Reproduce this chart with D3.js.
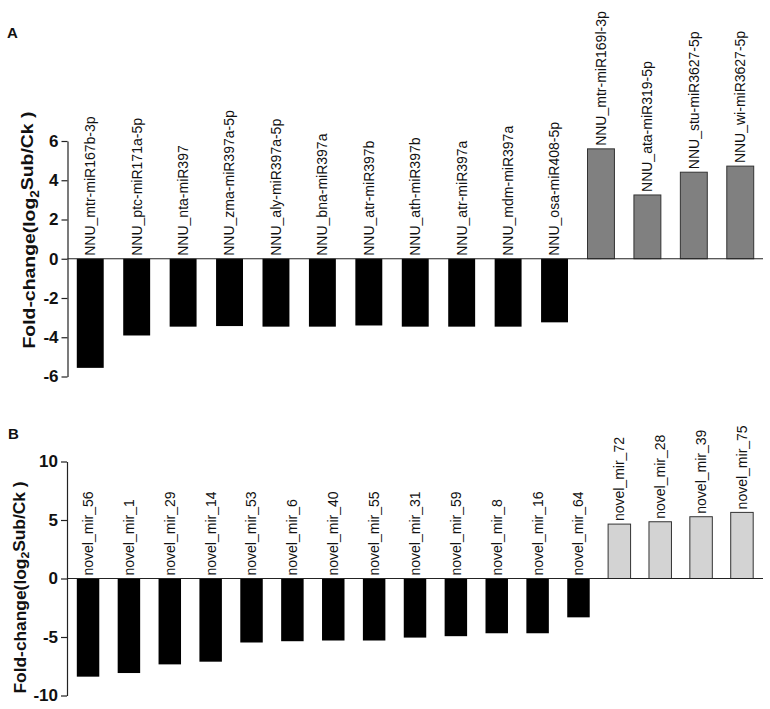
<!DOCTYPE html>
<html>
<head>
<meta charset="utf-8">
<script src="https://cdn.jsdelivr.net/npm/d3@7/dist/d3.min.js"></script>
<style>
  body { margin: 0; background: #fff; }
  svg { display: block; font-family: "Liberation Sans", Arial, Helvetica, sans-serif; }
</style>
</head>
<body>
<svg id="chart" width="770" height="709"></svg>
<script>
// ---- Data ----
const categoriesA = ["NNU_mtr-miR167b-3p","NNU_ptc-miR171a-5p","NNU_nta-miR397","NNU_zma-miR397a-5p",
  "NNU_aly-miR397a-5p","NNU_bna-miR397a","NNU_atr-miR397b","NNU_ath-miR397b","NNU_atr-miR397a",
  "NNU_mdm-miR397a","NNU_osa-miR408-5p","NNU_mtr-miR169l-3p","NNU_ata-miR319-5p","NNU_stu-miR3627-5p",
  "NNU_wi-miR3627-5p"];
const valuesA = [-5.56,-3.91,-3.46,-3.43,-3.46,-3.46,-3.40,-3.46,-3.46,-3.46,-3.24,5.60,3.25,4.41,4.72];
const ticksA = [-6,-4,-2,0,2,4,6];

const categoriesB = ["novel_mir_56","novel_mir_1","novel_mir_29","novel_mir_14","novel_mir_53","novel_mir_6",
  "novel_mir_40","novel_mir_55","novel_mir_31","novel_mir_59","novel_mir_8","novel_mir_16","novel_mir_64",
  "novel_mir_72","novel_mir_28","novel_mir_39","novel_mir_75"];
const valuesB = [-8.39,-8.08,-7.34,-7.11,-5.47,-5.36,-5.30,-5.30,-5.05,-4.93,-4.68,-4.68,-3.32,4.65,4.85,5.28,5.65];
const ticksB = [-10,-5,0,5,10];

const svg = d3.select("#chart");
svg.append("rect").attr("width",770).attr("height",709).attr("fill","#fff");

function panel(opts) {
  const g = svg.append("g");
  const x = d3.scaleBand().domain(opts.cats).range(opts.xr)
    .paddingInner(opts.pi).paddingOuter(opts.po);
  const y = d3.scaleLinear().domain(opts.dom).range(opts.yr);

  // bars
  g.selectAll("rect.bar").data(opts.vals).enter().append("rect")
    .attr("x", (d,i) => x(opts.cats[i]))
    .attr("width", x.bandwidth())
    .attr("y", d => y(Math.max(0,d)))
    .attr("height", d => Math.abs(y(d) - y(0)))
    .attr("fill", d => d < 0 ? "#000" : opts.posFill)
    .attr("stroke", d => d < 0 ? "none" : "#333")
    .attr("stroke-width", 1);

  // zero line
  g.append("line").attr("x1", opts.xr[0]).attr("x2", opts.xr[1])
    .attr("y1", y(0)).attr("y2", y(0)).attr("stroke","#222").attr("stroke-width",1.2);

  // y axis
  const ax = g.append("g").attr("transform", `translate(${opts.xr[0]},0)`)
    .call(d3.axisLeft(y).tickValues(opts.ticks).tickSize(6).tickSizeOuter(0).tickPadding(3)
      .tickFormat(d => String(d)));
  ax.select(".domain").attr("stroke","#222").attr("stroke-width",1.2);
  ax.selectAll(".tick line").attr("stroke","#222").attr("stroke-width",1.2);
  ax.selectAll(".tick text").attr("font-size",17).attr("font-weight","bold")
    .attr("fill","#111").attr("font-family","'Liberation Sans', Arial, sans-serif");

  // bar labels
  g.selectAll("text.lbl").data(opts.vals).enter().append("text")
    .attr("transform", (d,i) => `translate(${x(opts.cats[i]) + x.bandwidth()/2},${y(Math.max(0,d)) - 3}) rotate(-90)`)
    .attr("dy","0.35em")
    .attr("text-anchor","start")
    .attr("font-size",14)
    .attr("fill","#111")
    .text((d,i) => opts.cats[i]);

  // axis title
  const t = g.append("text")
    .attr("transform", `translate(${opts.titleX},${opts.titleY}) rotate(-90)`)
    .attr("text-anchor","middle")
    .attr("font-size",opts.titleSize).attr("font-weight","bold").attr("fill","#111")
    .attr("textLength", opts.titleLen).attr("lengthAdjust","spacingAndGlyphs");
  t.append("tspan").text("Fold-change(log");
  t.append("tspan").attr("font-size", opts.titleSize*0.7).attr("dy","0.3em").text("2");
  t.append("tspan").attr("dy","-0.3em").text("Sub/Ck )");

  // panel letter
  svg.append("text").attr("x",opts.letterX).attr("y",opts.letterY)
    .attr("font-size",15).attr("font-weight","bold").attr("fill","#111").text(opts.letter);
}

panel({cats: categoriesA, vals: valuesA, ticks: ticksA, dom: [-6,6], yr: [376.5,141],
  xr: [67.5,763], pi: 0.42, po: 0.2, posFill: "#808080",
  titleX: 35, titleY: 230, titleLen: 237, titleSize: 17, letter: "A", letterX: 7, letterY: 38});

panel({cats: categoriesB, vals: valuesB, ticks: ticksB, dom: [-10,10], yr: [695.5,461.5],
  xr: [67,763], pi: 0.45, po: 0.24, posFill: "#d3d3d3",
  titleX: 26, titleY: 587.5, titleLen: 212, titleSize: 16, letter: "B", letterX: 8, letterY: 439});
</script>
</body>
</html>
